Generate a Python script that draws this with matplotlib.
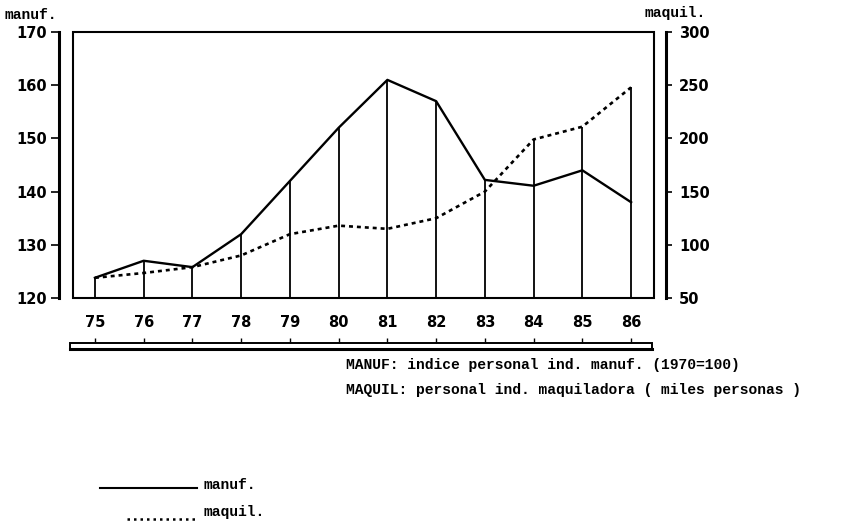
import matplotlib
matplotlib.use('Agg')
import matplotlib.pyplot as plt
import matplotlib.transforms as mtransforms
from matplotlib.patches import Rectangle
from matplotlib.lines import Line2D

# data
years = [75, 76, 77, 78, 79, 80, 81, 82, 83, 84, 85, 86]
year_labels = ['75', '76', '77', '78', '79', '80', '81', '82', '83', '84', '85', '86']
manuf = [123.8, 127.0, 125.8, 132.0, 142.0, 152.0, 161.0, 157.0, 142.2, 141.1, 144.0, 138.0]
maquil = [69, 73.5, 79, 90, 110, 118, 115, 125, 150, 199, 211, 248]
manuf_ticks = [120, 130, 140, 150, 160, 170]
maquil_ticks = [50, 100, 150, 200, 250, 300]

W, H = 848, 528
mono = 'Liberation Mono'
sans = 'DejaVu Sans'
dots = (0, (1.5, 1.5))

fig = plt.figure(figsize=(W / 100, H / 100), dpi=100)
ax = fig.add_axes([73 / W, 1 - 298 / H, (654 - 73) / W, (298 - 32) / H])
ax2 = ax.twinx()

ax.set_xlim(74.55, 86.47)
ax.set_ylim(120, 170)
ax2.set_ylim(50, 300)

# drop lines go up to whichever series sits higher at that year
manuf_on_maquil = [(m - 120) * 5 + 50 for m in manuf]
tops = [max(a, b) for a, b in zip(maquil, manuf_on_maquil)]
ax2.vlines(years, 50, tops, colors='black', lw=1.3)

ax.plot(years, manuf, color='black', lw=1.7)
ax2.plot(years, maquil, color='black', lw=1.9, linestyle=dots)

# spines
for s in ['top', 'bottom', 'right']:
    ax.spines[s].set_visible(False)
for s in ['top', 'bottom', 'left']:
    ax2.spines[s].set_visible(False)
ax.spines['left'].set_position(('outward', 10))
ax.spines['left'].set_linewidth(2.2)
ax2.spines['right'].set_position(('outward', 9))
ax2.spines['right'].set_linewidth(2.2)
ax2.add_patch(Rectangle((0, 0), 1, 1, transform=ax.transAxes, fill=False,
                        lw=1.5, edgecolor='black', clip_on=False))

ax.set_yticks(manuf_ticks)
ax.set_yticklabels([str(t) for t in manuf_ticks], fontfamily=sans,
                   fontweight='bold', fontsize=10.5)
ax.tick_params(axis='y', direction='out', length=5.5, width=1.2, pad=3)
ax2.set_yticks(maquil_ticks)
ax2.set_yticklabels([str(t) for t in maquil_ticks], fontfamily=sans,
                    fontweight='bold', fontsize=10.5)
ax2.tick_params(axis='y', direction='out', length=4, width=1.2, pad=5)

ax.set_xticks(years)
ax.set_xticklabels(year_labels, fontfamily=sans, fontweight='bold', fontsize=10.5)
ax.tick_params(axis='x', length=0, pad=12)

# double bar under the year labels
trans = mtransforms.blended_transform_factory(ax.transData, ax.transAxes)
ax.add_patch(Rectangle((-0.005, -0.197), 1.002, 0.027, transform=ax.transAxes,
                       facecolor='white', edgecolor='black', lw=1.4, clip_on=False))
ax.plot([-0.005, 0.997], [-0.192, -0.192], transform=ax.transAxes,
        color='black', lw=2.2, clip_on=False)
ax.vlines(years, -0.170, -0.152, transform=trans, colors='black', lw=1.0,
          clip_on=False)

# texts
fig.text(5 / W, 1 - 15 / H, 'manuf.', fontfamily=mono, fontweight='bold',
         fontsize=10.5, va='center', ha='left')
fig.text(645 / W, 1 - 13 / H, 'maquil.', fontfamily=mono, fontweight='bold',
         fontsize=10.5, va='center', ha='left')
fig.text(346 / W, 1 - 365 / H, 'MANUF: indice personal ind. manuf. (1970=100)',
         fontfamily=mono, fontweight='bold', fontsize=10.5, va='center', ha='left')
fig.text(346 / W, 1 - 390 / H,
         'MAQUIL: personal ind. maquiladora ( miles personas )',
         fontfamily=mono, fontweight='bold', fontsize=10.5, va='center', ha='left')

# legend keys
fig.add_artist(Line2D([100 / W, 197 / W], [1 - 488 / H] * 2, color='black', lw=1.5))
fig.add_artist(Line2D([127 / W, 197 / W], [1 - 519 / H] * 2, color='black', lw=1.8,
                      linestyle=(0, (1.0, 1.6))))
fig.text(204 / W, 1 - 485 / H, 'manuf.', fontfamily=mono, fontweight='bold',
         fontsize=10.5, va='center', ha='left')
fig.text(204 / W, 1 - 512 / H, 'maquil.', fontfamily=mono, fontweight='bold',
         fontsize=10.5, va='center', ha='left')

fig.savefig('out.png', dpi=100)
